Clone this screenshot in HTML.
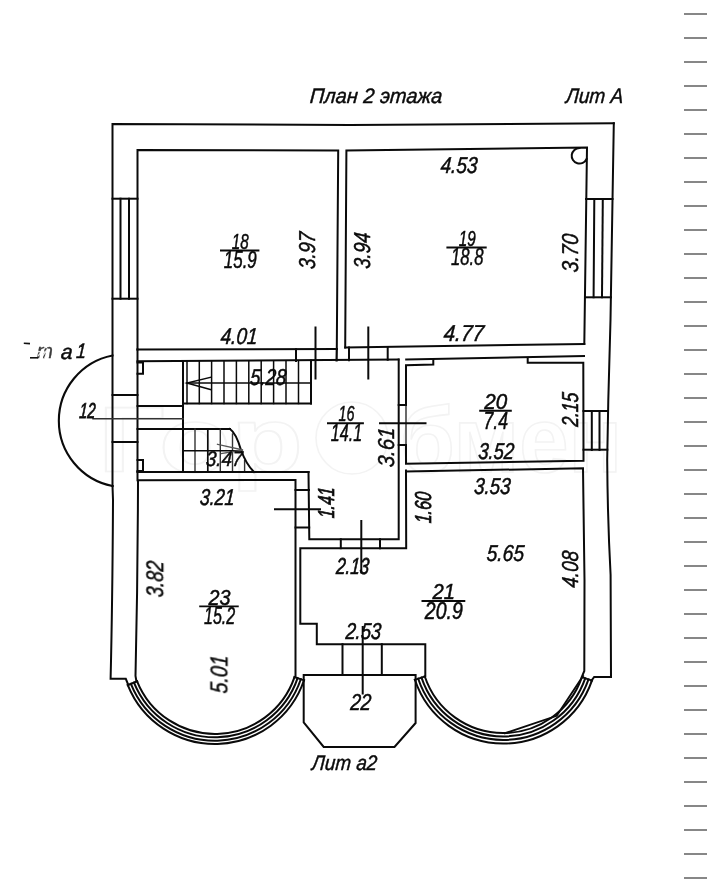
<!DOCTYPE html>
<html><head><meta charset="utf-8"><title>План 2 этажа</title>
<style>
html,body{margin:0;padding:0;background:#fff;}
body{width:720px;height:884px;overflow:hidden;font-family:"Liberation Sans",sans-serif;}
svg{display:block}
</style></head><body>
<svg width="720" height="884" viewBox="0 0 720 884">
<rect width="720" height="884" fill="#ffffff"/>
<g stroke="#878787" stroke-width="2">
<line x1="684" y1="14" x2="707" y2="14"/>
<line x1="684" y1="38" x2="707" y2="38"/>
<line x1="684" y1="62" x2="707" y2="62"/>
<line x1="684" y1="86" x2="707" y2="86"/>
<line x1="684" y1="110" x2="707" y2="110"/>
<line x1="684" y1="134" x2="707" y2="134"/>
<line x1="684" y1="158" x2="707" y2="158"/>
<line x1="684" y1="182" x2="707" y2="182"/>
<line x1="684" y1="206" x2="707" y2="206"/>
<line x1="684" y1="230" x2="707" y2="230"/>
<line x1="684" y1="254" x2="707" y2="254"/>
<line x1="684" y1="278" x2="707" y2="278"/>
<line x1="684" y1="302" x2="707" y2="302"/>
<line x1="684" y1="326" x2="707" y2="326"/>
<line x1="684" y1="350" x2="707" y2="350"/>
<line x1="684" y1="374" x2="707" y2="374"/>
<line x1="684" y1="398" x2="707" y2="398"/>
<line x1="684" y1="422" x2="707" y2="422"/>
<line x1="684" y1="446" x2="707" y2="446"/>
<line x1="684" y1="470" x2="707" y2="470"/>
<line x1="684" y1="494" x2="707" y2="494"/>
<line x1="684" y1="518" x2="707" y2="518"/>
<line x1="684" y1="542" x2="707" y2="542"/>
<line x1="684" y1="566" x2="707" y2="566"/>
<line x1="684" y1="590" x2="707" y2="590"/>
<line x1="684" y1="614" x2="707" y2="614"/>
<line x1="684" y1="638" x2="707" y2="638"/>
<line x1="684" y1="662" x2="707" y2="662"/>
<line x1="684" y1="686" x2="707" y2="686"/>
<line x1="684" y1="710" x2="707" y2="710"/>
<line x1="684" y1="734" x2="707" y2="734"/>
<line x1="684" y1="758" x2="707" y2="758"/>
<line x1="684" y1="782" x2="707" y2="782"/>
<line x1="684" y1="806" x2="707" y2="806"/>
<line x1="684" y1="830" x2="707" y2="830"/>
<line x1="684" y1="854" x2="707" y2="854"/>
<line x1="684" y1="878" x2="707" y2="878"/>
</g>
<g id="wm" fill="none" stroke="#f3f3f3" stroke-width="1.6" font-family="'Liberation Sans', sans-serif" font-size="92" font-weight="bold">
<text x="98" y="472" textLength="205" lengthAdjust="spacingAndGlyphs">Гор</text>
<circle cx="352" cy="438" r="36"/>
<text x="400" y="472" textLength="222" lengthAdjust="spacingAndGlyphs">бмен</text>
</g>
<g id="walls" fill="none" stroke="#0a0a0a" stroke-width="2" stroke-linecap="square" stroke-linejoin="miter">
<path d="M112.5 486 L112.5 124 L350 125 L613.8 123.2"/>
<path d="M613.8 123.2 L610.5 320 L608.3 400 L607.2 460 Q607.6 520 610.6 575 L611 677 L594.2 677 L591.3 680.8"/>
<path d="M112.5 486 L113 500 Q112.5 600 110.6 678.8 L125.8 678.8 L128.2 684.8"/>
<path d="M112.5 355.5 A66.5 66.5 0 0 0 112.5 486" stroke-width="2.1"/>
<path d="M137.5 349.5 L137.5 150 L338.2 150.5 L336.8 349"/>
<line x1="137.5" y1="349.5" x2="336.8" y2="349"/>
<path d="M345.2 347.5 L346.4 150.5 L587 147.5 L584.3 344"/>
<line x1="345.2" y1="347.5" x2="584.3" y2="344"/>
<path d="M579.5 148 A7.8 7.8 0 1 0 586.6 159"/>
<line x1="112.5" y1="198.7" x2="137.5" y2="198.7"/>
<line x1="112.5" y1="298.7" x2="137.5" y2="298.7"/>
<line x1="120.5" y1="198.7" x2="120.5" y2="298.7"/>
<line x1="129" y1="198.7" x2="129" y2="298.7"/>
<line x1="586" y1="199" x2="612.5" y2="199"/>
<line x1="585" y1="297.3" x2="611" y2="297.3"/>
<line x1="594.3" y1="199" x2="593.6" y2="297.3"/>
<line x1="602.8" y1="199" x2="602" y2="297.3"/>
<line x1="137.5" y1="361.3" x2="398.5" y2="359.6"/>
<line x1="296" y1="349.3" x2="296" y2="361"/>
<line x1="336.8" y1="349" x2="336.6" y2="360.5" stroke-width="2.2"/>
<line x1="349" y1="347.5" x2="349" y2="360.3"/>
<line x1="387.7" y1="347" x2="387.7" y2="359.8"/>
<line x1="315.5" y1="327.5" x2="315.5" y2="378.5"/>
<line x1="368.3" y1="327.5" x2="368.3" y2="378.5"/>
<line x1="112.5" y1="395" x2="137.5" y2="395"/>
<line x1="112.5" y1="442" x2="137.5" y2="442"/>
<line x1="137.5" y1="349.5" x2="137.5" y2="480.3"/>
<path d="M137.5 362.5 L143 362.5 L143 373.8 L137.5 373.8"/>
<path d="M137.5 460 L143 460 L143 471 L137.5 471"/>
<line x1="183" y1="361.5" x2="183" y2="471.5"/>
<line x1="137.5" y1="406" x2="183" y2="406"/>
<line x1="93" y1="418.7" x2="183" y2="418.7" stroke-width="1.5" stroke="#333"/>
<line x1="137.5" y1="429" x2="230" y2="429"/>
<line x1="183" y1="403.5" x2="311" y2="403.5"/>
<line x1="311" y1="360.5" x2="311" y2="403.5"/>
<line x1="187" y1="361.3" x2="187" y2="403.5" stroke-width="1.5"/>
<line x1="199.3" y1="361.3" x2="199.3" y2="403.5" stroke-width="1.5"/>
<line x1="211.6" y1="361.3" x2="211.6" y2="403.5" stroke-width="1.5"/>
<line x1="224" y1="361.3" x2="224" y2="403.5" stroke-width="1.5"/>
<line x1="236.4" y1="361.3" x2="236.4" y2="403.5" stroke-width="1.5"/>
<line x1="248.8" y1="361.3" x2="248.8" y2="403.5" stroke-width="1.5"/>
<line x1="261.2" y1="361.3" x2="261.2" y2="403.5" stroke-width="1.5"/>
<line x1="273.6" y1="361.3" x2="273.6" y2="403.5" stroke-width="1.5"/>
<line x1="286" y1="361.3" x2="286" y2="403.5" stroke-width="1.5"/>
<line x1="298.5" y1="361.3" x2="298.5" y2="403.5" stroke-width="1.5"/>
<line x1="187" y1="383" x2="311" y2="383" stroke-width="1.5"/>
<path d="M210.5 377.3 L187 383 L210.5 389.5" stroke-width="1.5"/>
<line x1="195" y1="429" x2="195" y2="471.5" stroke-width="1.4" stroke="#333"/>
<line x1="207.8" y1="429" x2="207.8" y2="471.5" stroke-width="1.7"/>
<line x1="220.3" y1="429" x2="220.3" y2="471.5" stroke-width="1.4" stroke="#333"/>
<line x1="232.5" y1="434" x2="232.5" y2="471.5" stroke-width="1.4" stroke="#333"/>
<line x1="244.6" y1="460.5" x2="244.6" y2="471.5" stroke-width="1.4" stroke="#333"/>
<line x1="183" y1="450.8" x2="241.5" y2="450.8" stroke-width="1.6"/>
<path d="M230 429 Q236 433 241 450 Q246 464 254 472"/>
<path d="M217.5 444.3 L243 450 L221.5 453.5" stroke-width="1.3" stroke="#555"/>
<line x1="137.5" y1="472" x2="308.5" y2="472" stroke-width="2.2"/>
<path d="M308.5 472 L309.3 539.3 L398.7 539.3 L398.7 359.6"/>
<path d="M295.5 677 L295.5 480 L138 480.3 Q137.8 580 135.5 676 L136.4 681.3"/>
<line x1="295.5" y1="490" x2="309" y2="490"/>
<line x1="295.5" y1="527.5" x2="309.2" y2="527.5"/>
<line x1="275" y1="509.3" x2="320" y2="509.3"/>
<line x1="340.8" y1="539.3" x2="340.8" y2="548.2"/>
<line x1="380" y1="539.3" x2="380" y2="548.2"/>
<line x1="361.3" y1="521" x2="361.3" y2="572.5"/>
<path d="M406 470.5 L406.2 548.2 L300.3 548.2 L300.3 623.7 L316.8 623.7 L316.8 644.2 L425.3 644.2 L425.3 676"/>
<path d="M406 471.6 L583 468.2 L584.5 580 L584.3 671 L582 676.5"/>
<path d="M406.2 359.4 L584 356"/>
<line x1="406" y1="405" x2="406" y2="445" stroke-width="1.4" stroke="#2a2a2a"/>
<path d="M406 445 L406 463.8 L583.5 460.8 L583.3 362.7 L527.7 362.7 L527.7 358"/>
<path d="M406 405 L406 365.3 L433.3 364.6 L433.3 359.2"/>
<line x1="398.7" y1="405" x2="406" y2="405"/>
<line x1="398.7" y1="445" x2="406" y2="445"/>
<line x1="380" y1="423.3" x2="425.5" y2="423.3"/>
<line x1="583.5" y1="411" x2="608" y2="411"/>
<line x1="583.5" y1="449.7" x2="607.3" y2="449.7"/>
<line x1="591.8" y1="411.2" x2="591.8" y2="450"/>
<line x1="599.5" y1="411.2" x2="599.5" y2="450"/>
<line x1="342.5" y1="644.2" x2="342.5" y2="675"/>
<line x1="381.8" y1="644.2" x2="381.8" y2="675"/>
<line x1="362.7" y1="627" x2="362.7" y2="693.5"/>
<path d="M303.7 675 L415.6 675 L415.6 723 L394.5 747 L323.7 747 L303.7 722.5 L303.7 675"/>
<path d="M294.5 677.1 A84 84 0 0 1 137.1 681.3"/>
<path d="M297.6 678.1 A87.3 87.3 0 0 1 134.0 682.6"/>
<path d="M300.8 679.2 A90.6 90.6 0 0 1 130.9 683.8"/>
<path d="M304.0 680.3 A94 94 0 0 1 127.8 685.1"/>
<path d="M581.9 677.2 A83 83 0 0 1 424.8 676.5"/>
<path d="M585.2 678.3 A86.5 86.5 0 0 1 421.5 677.6"/>
<path d="M588.5 679.4 A90 90 0 0 1 418.2 678.7"/>
<path d="M591.9 680.6 A93.5 93.5 0 0 1 414.9 679.8"/>
<line x1="294.5" y1="677.1" x2="304.0" y2="680.3"/>
<line x1="137.1" y1="681.3" x2="127.8" y2="685.1"/>
<line x1="581.9" y1="677.2" x2="591.9" y2="680.6"/>
<line x1="424.8" y1="676.5" x2="414.9" y2="679.8"/>
<path d="M505 733.2 L556.7 715.8 L583 676" stroke-width="1.9"/>
</g>
<g id="txt" opacity="0.995" fill="#0a0a0a" stroke="#0a0a0a" stroke-width="0.45" font-family="'Liberation Sans', sans-serif" font-style="italic" font-size="23" text-anchor="middle">
<text id="t0" transform="translate(376.20 96.00) skewX(-4) scale(0.954 1)" x="0" y="6.9" font-size="21" stroke-width="0.45">План 2 этажа</text>
<text id="t1" transform="translate(594.70 96.00) skewX(-4) scale(0.906 1)" x="0" y="6.9" font-size="21" stroke-width="0.45">Лит А</text>
<text id="t2" transform="translate(459.20 165.50) skewX(-4) scale(0.828 1)" x="0" y="7.6" font-size="23" stroke-width="0.49">4.53</text>
<text id="t3" transform="translate(307.70 250.40) rotate(-90) skewX(-4) scale(0.828 1)" x="0" y="7.6" font-size="23" stroke-width="0.49">3.97</text>
<text id="t4" transform="translate(362.10 250.50) rotate(-90) skewX(-4) scale(0.806 1)" x="0" y="7.6" font-size="23" stroke-width="0.54">3.94</text>
<text id="t5" transform="translate(569.90 253.00) rotate(-90) skewX(-4) scale(0.862 1)" x="0" y="7.6" font-size="23" stroke-width="0.45">3.70</text>
<text id="t6" transform="translate(463.90 333.80) skewX(-4) scale(0.904 1)" x="0" y="7.6" font-size="23" stroke-width="0.45">4.77</text>
<text id="t7" transform="translate(239.20 336.30) skewX(-4) scale(0.827 1)" x="0" y="7.6" font-size="23" stroke-width="0.50">4.01</text>
<text id="t8" transform="translate(268.40 377.30) skewX(-4) scale(0.807 1)" x="0" y="7.6" font-size="23" stroke-width="0.54">5.28</text>
<text id="t9" transform="translate(66.90 352.10) skewX(-4) scale(0.999 1)" x="0" y="6.9" font-size="21" stroke-width="0.45">а</text>
<text id="t10" transform="translate(81.30 351.50) skewX(-4) scale(0.855 1)" x="0" y="6.9" font-size="21" stroke-width="0.45">1</text>
<text id="t11" transform="translate(87.50 411.20) skewX(-4) scale(0.670 1)" x="0" y="7.1" font-size="21.5" stroke-width="0.81">12</text>
<text id="t12" transform="translate(224.40 459.00) skewX(-4) scale(0.898 1)" x="0" y="6.9" font-size="21" stroke-width="0.45">3.47</text>
<text id="t13" transform="translate(217.40 496.90) skewX(-4) scale(0.779 1)" x="0" y="7.6" font-size="23" stroke-width="0.59">3.21</text>
<text id="t14" transform="translate(386.30 447.20) rotate(-90) skewX(-4) scale(0.886 1)" x="0" y="7.6" font-size="23" stroke-width="0.45">3.61</text>
<text id="t15" transform="translate(326.70 502.50) rotate(-90) skewX(-4) scale(0.691 1)" x="0" y="7.6" font-size="23" stroke-width="0.77">1.41</text>
<text id="t16" transform="translate(423.50 507.50) rotate(-90) skewX(-4) scale(0.697 1)" x="0" y="7.6" font-size="23" stroke-width="0.76">1.60</text>
<text id="t17" transform="translate(569.90 409.50) rotate(-90) skewX(-4) scale(0.763 1)" x="0" y="7.6" font-size="23" stroke-width="0.62">2.15</text>
<text id="t18" transform="translate(496.30 451.30) skewX(-4) scale(0.796 1)" x="0" y="7.6" font-size="23" stroke-width="0.56">3.52</text>
<text id="t19" transform="translate(492.50 486.50) skewX(-4) scale(0.817 1)" x="0" y="7.6" font-size="23" stroke-width="0.52">3.53</text>
<text id="t20" transform="translate(505.50 553.10) skewX(-4) scale(0.840 1)" x="0" y="7.6" font-size="23" stroke-width="0.47">5.65</text>
<text id="t21" transform="translate(570.70 569.10) rotate(-90) skewX(-4) scale(0.818 1)" x="0" y="7.6" font-size="23" stroke-width="0.51">4.08</text>
<text id="t22" transform="translate(352.80 566.00) skewX(-4) scale(0.741 1)" x="0" y="7.6" font-size="23" stroke-width="0.67">2.13</text>
<text id="t23" transform="translate(363.50 631.70) skewX(-4) scale(0.796 1)" x="0" y="7.6" font-size="23" stroke-width="0.56">2.53</text>
<text id="t24" transform="translate(360.90 702.40) skewX(-4) scale(0.814 1)" x="0" y="7.6" font-size="23" stroke-width="0.52">22</text>
<text id="t25" transform="translate(344.70 763.00) skewX(-4) scale(0.897 1)" x="0" y="6.9" font-size="21" stroke-width="0.45">Лит а2</text>
<text id="t26" transform="translate(155.30 578.90) rotate(-90) skewX(-4) scale(0.808 1)" x="0" y="7.6" font-size="23" stroke-width="0.53">3.82</text>
<text id="t27" transform="translate(219.50 674.20) rotate(-90) skewX(-4) scale(0.851 1)" x="0" y="7.6" font-size="23" stroke-width="0.45">5.01</text>
<text transform="translate(37 358.3) scale(0.95 1)" x="0" y="0" font-size="20" text-anchor="start" fill="#3a3a3a" stroke="#3a3a3a" stroke-width="0.4">т</text>
</g>
<g id="fr" opacity="0.995" fill="#0a0a0a" stroke="#0a0a0a" stroke-width="0.5" font-family="'Liberation Sans', sans-serif" font-style="italic" text-anchor="middle">
<line x1="220" y1="250.5" x2="259.4" y2="250.5" stroke="#0a0a0a" stroke-width="1.9"/>
<text x="240.3" y="248.6" font-size="22" textLength="17.0" lengthAdjust="spacingAndGlyphs">18</text>
<text x="240.3" y="268.3" font-size="23.2" textLength="33.0" lengthAdjust="spacingAndGlyphs">15.9</text>
<line x1="446.4" y1="247.5" x2="486.7" y2="247.5" stroke="#0a0a0a" stroke-width="1.9"/>
<text x="467.3" y="245.6" font-size="22" textLength="17.0" lengthAdjust="spacingAndGlyphs">19</text>
<text x="467.3" y="265.3" font-size="23.2" textLength="32.5" lengthAdjust="spacingAndGlyphs">18.8</text>
<line x1="327" y1="423.2" x2="363.9" y2="423.2" stroke="#0a0a0a" stroke-width="1.9"/>
<text x="346.5" y="421.3" font-size="22" textLength="16.0" lengthAdjust="spacingAndGlyphs">16</text>
<text x="346.5" y="441.0" font-size="23.2" textLength="31.3" lengthAdjust="spacingAndGlyphs">14.1</text>
<line x1="479.2" y1="410.7" x2="511.8" y2="410.7" stroke="#0a0a0a" stroke-width="1.9"/>
<text x="495.8" y="408.8" font-size="22" textLength="23.0" lengthAdjust="spacingAndGlyphs">20</text>
<text x="495.8" y="428.5" font-size="23.2" textLength="24.5" lengthAdjust="spacingAndGlyphs">7.4</text>
<line x1="421.5" y1="601" x2="465.3" y2="601" stroke="#0a0a0a" stroke-width="1.9"/>
<text x="443.8" y="599.1" font-size="22" textLength="22.5" lengthAdjust="spacingAndGlyphs">21</text>
<text x="443.8" y="618.8" font-size="23.2" textLength="38.0" lengthAdjust="spacingAndGlyphs">20.9</text>
<line x1="199.2" y1="606.4" x2="238.75" y2="606.4" stroke="#0a0a0a" stroke-width="1.9"/>
<text x="219.6" y="604.5" font-size="22" textLength="22.0" lengthAdjust="spacingAndGlyphs">23</text>
<text x="219.6" y="624.2" font-size="23.2" textLength="31.3" lengthAdjust="spacingAndGlyphs">15.2</text>
</g>
<g stroke="#111" stroke-width="1.6" fill="none">
<line x1="23.8" y1="343.3" x2="30" y2="343.6"/>
<line x1="30" y1="357.8" x2="38" y2="357.8"/>
</g>
<g stroke="#fff" stroke-width="1.3" fill="none" opacity="0.85">
<line x1="38" y1="356" x2="46" y2="346.5"/>
<line x1="41" y1="358" x2="48" y2="348.5"/>
<line x1="38" y1="351.5" x2="47" y2="352.5"/>
<line x1="44.5" y1="358.5" x2="47.5" y2="351"/>
</g>
</svg>
</body></html>
